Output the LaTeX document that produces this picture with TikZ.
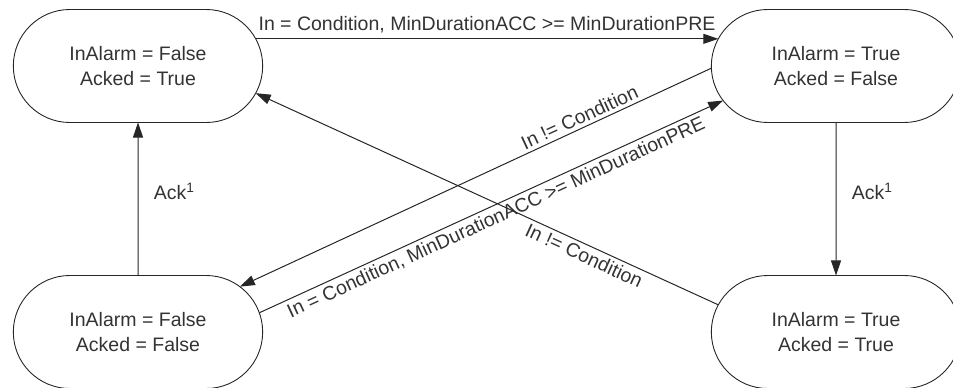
\documentclass[tikz,border=0pt]{standalone}
\usepackage{fontspec}
\setmainfont{Liberation Sans}
\usepackage{tkz-graph}
\usetikzlibrary{shapes.misc,arrows.meta}

\begin{document}
\begin{tikzpicture}[x=1pt,y=1pt]
\clip (0,0) rectangle (953,-388);
	\tikzset{VertexStyle/.style =
	{draw,
		shape = rounded rectangle,
		%fill = white,
		minimum width = 256pt,
		minimum height = 113pt,
		align = center,
		line width = 0.9pt,
		font = \fontsize{19.5}{25}\selectfont,
		text = black!80,
		draw = black!85}}
	\tikzset{transition/.style =
	{draw = black!85,
		line width = 1pt,
		-{Triangle[length=15pt,width=10pt]}},
		cond/.style = {font = \fontsize{19.5}{25}\selectfont,
		text = black!80}}
\Vertex[x=138,y=-66,L={InAlarm = False\\Acked = True}]{OkAcked}
\Vertex[x=836,y=-66,L={InAlarm = True\\Acked = False}]{AlarmNotAcked}
\Vertex[x=138,y=-332,L={InAlarm = False\\Acked = False}]{OkNotAcked}
\Vertex[x=836,y=-332,L={InAlarm = True\\Acked = True}]{AlarmAcked}

\draw[transition] (OkAcked.13) -- node[cond, above, inner sep=5pt] {In = Condition, MinDurationACC >= MinDurationPRE} (AlarmNotAcked.167);
\draw[transition] (OkNotAcked) -- node[cond, right=12pt, pos=0.55] {Ack\textsuperscript{1}} (OkAcked);
\draw[transition] (AlarmNotAcked) -- node[cond, right=12pt, pos=0.45] {Ack\textsuperscript{1}} (AlarmAcked);
\draw[transition] (AlarmNotAcked.181) -- node[cond, above, sloped, pos=0.27] {In != Condition} (OkNotAcked.24);
\draw[transition] (OkNotAcked.9) -- node[cond, below, sloped] {In = Condition, MinDurationACC >= MinDurationPRE} (AlarmNotAcked.197);
\draw[transition] (AlarmAcked.167) -- node[cond, below, sloped, pos=0.28] {In != Condition} (OkAcked.347);

\end{tikzpicture}
\end{document}
